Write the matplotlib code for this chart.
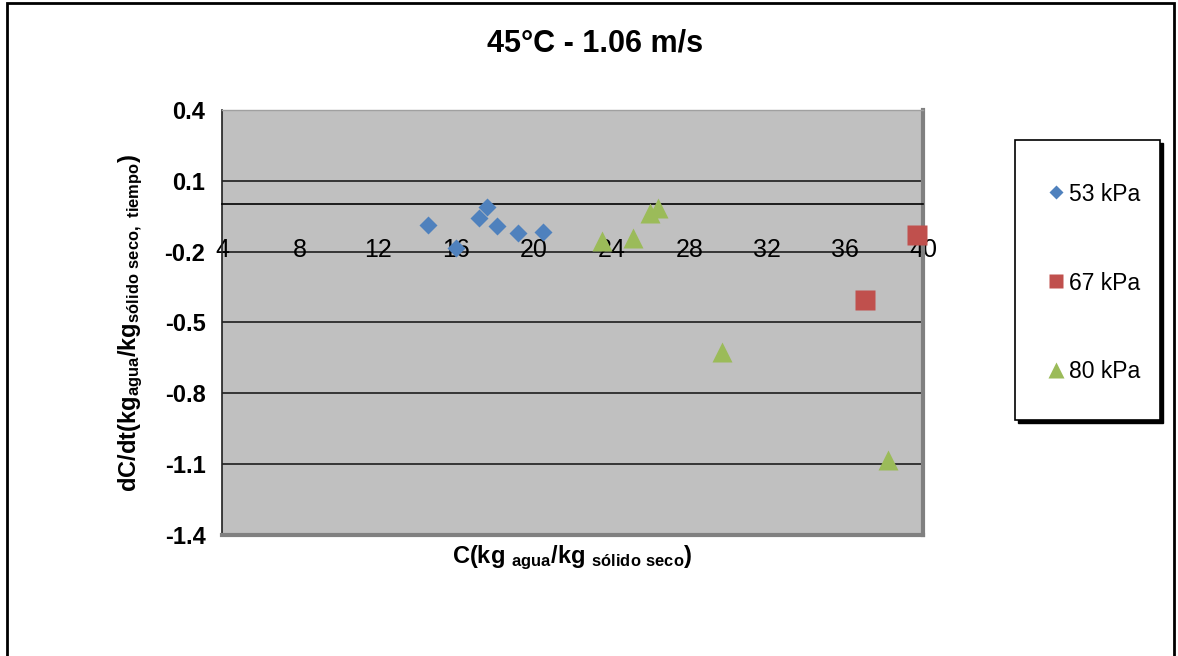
import matplotlib
matplotlib.use('Agg')
import matplotlib.pyplot as plt
from matplotlib.patches import Rectangle

plt.rcParams['font.family'] = ['Liberation Sans', 'DejaVu Sans']
plt.rcParams['mathtext.default'] = 'regular'

# data
x_53 = [14.6, 16.0, 17.2, 17.6, 18.1, 19.2, 20.5]
y_53 = [-0.087, -0.186, -0.056, -0.010, -0.090, -0.120, -0.115]
x_67 = [39.7, 37.0]
y_67 = [-0.129, -0.405]
x_80 = [23.5, 25.1, 26.0, 26.4, 29.7, 38.2]
y_80 = [-0.155, -0.143, -0.038, -0.016, -0.624, -1.082]

x_ticks = [4, 8, 12, 16, 20, 24, 28, 32, 36, 40]
y_ticks = [0.4, 0.1, -0.2, -0.5, -0.8, -1.1, -1.4]
y_grid = [0.1, -0.2, -0.5, -0.8, -1.1]

fig = plt.figure(figsize=(11.78, 6.56), dpi=100)
ax = fig.add_axes([0.1885, 0.1845, 0.595, 0.6478])
ax.set_facecolor('#C0C0C0')

for g in y_grid:
    ax.axhline(g, color='#2a2a2a', lw=1.3, zorder=1)

ax.plot(x_53, y_53, 'D', color='#4F81BD', ms=9, mec='none', label='53 kPa', zorder=3, clip_on=False)
ax.plot(x_67, y_67, 's', color='#C0504D', ms=14, mec='none', label='67 kPa', zorder=3, clip_on=False)
ax.plot(x_80, y_80, '^', color='#9BBB59', ms=15, mec='none', label='80 kPa', zorder=3, clip_on=False)

ax.set_xlim(4, 40)
ax.set_ylim(-1.4, 0.4)
ax.set_xticks(x_ticks)
ax.set_yticks(y_ticks)
ax.set_yticklabels([str(v) for v in y_ticks])

# x axis crosses at 0, labels sit just under it
ax.spines['bottom'].set_position(('data', 0))
ax.spines['bottom'].set_color('black')
ax.spines['bottom'].set_linewidth(1.2)
ax.spines['left'].set_color('#202020')
ax.spines['left'].set_linewidth(1.2)
ax.spines['top'].set_color('#a0a0a0')
ax.spines['top'].set_linewidth(1)
ax.spines['right'].set_color('#808080')
ax.spines['right'].set_linewidth(3)
ax.plot([0, 1], [0, 0], transform=ax.transAxes, color='#808080', lw=3, clip_on=False, zorder=4)

ax.tick_params(axis='x', length=0, pad=24, labelsize=18)
ax.tick_params(axis='y', length=0, pad=12, labelsize=17)
for lab in ax.get_yticklabels():
    lab.set_fontweight('bold')

ax.set_xlabel('C(kg $_{agua}$/kg $_{sólido\\ seco}$)', fontsize=17, fontweight='bold')
ax.xaxis.set_label_coords(0.5, -0.02)
ax.set_ylabel('dC/dt(kg$_{agua}$/kg$_{sólido\\ seco,\\ tiempo}$)', fontsize=17, fontweight='bold', labelpad=14)

fig.text(0.505, 0.933, '45°C - 1.06 m/s', ha='center', va='center', fontsize=22, fontweight='bold')

# legend box with shadow
fig.patches.append(Rectangle((1018 / 1178, 1 - 423 / 656), 145 / 1178, 280 / 656,
                             transform=fig.transFigure, facecolor='black', edgecolor='black', zorder=0))
fig.patches.append(Rectangle((1015 / 1178, 1 - 420 / 656), 145 / 1178, 280 / 656,
                             transform=fig.transFigure, facecolor='white', edgecolor='black', lw=1.2, zorder=1))
leg = fig.legend(loc='center left', bbox_to_anchor=(1038 / 1178, 1 - 283 / 656), frameon=False,
                 fontsize=16.5, numpoints=1, borderpad=0, handlelength=0.6, handletextpad=0.27,
                 labelspacing=2.88, markerscale=0.75)

# outer border of the whole picture
fig.patches.append(Rectangle((0.006, -0.01), 0.991, 1.006, transform=fig.transFigure,
                             facecolor='none', edgecolor='black', lw=2))

fig.savefig('out.png', dpi=100)
